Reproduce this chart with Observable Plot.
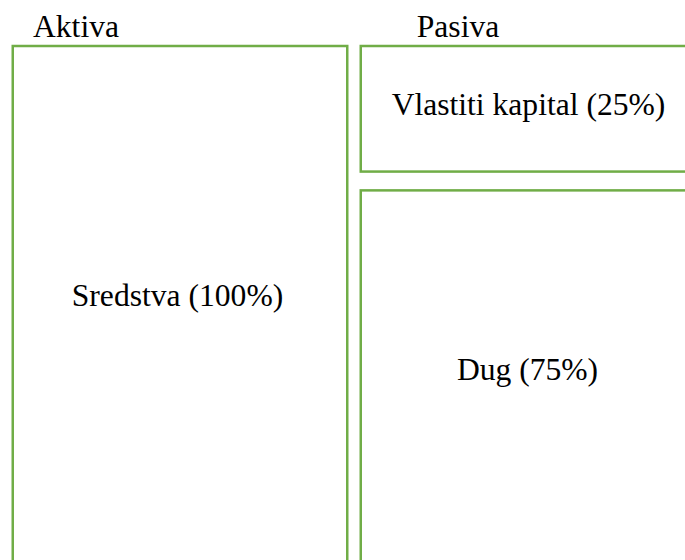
<!DOCTYPE html>
<html>
<head>
<meta charset="utf-8">
<script src="https://cdn.jsdelivr.net/npm/d3@7"></script>
<script src="https://cdn.jsdelivr.net/npm/@observablehq/plot@0.6"></script>
<style>
  html, body { margin: 0; padding: 0; background: white; overflow: hidden; }
  svg text { font-family: 'Liberation Serif', 'Times New Roman', Times, serif; }
</style>
</head>
<body>
<div id="chart"></div>
<script>
// Data
const strane = ["Aktiva", "Pasiva"];
const stavke = ["Sredstva", "Vlastiti kapital", "Dug"];
const stavkaStrana = ["Aktiva", "Pasiva", "Pasiva"];
const udjeli = [100, 25, 75];

// Table built from the arrays: stacked from the top (100%) downward per side
const rows = stavke.map((s, i) => ({stavka: s, strana: stavkaStrana[i], udio: udjeli[i]}));
const tops = new Map(strane.map(s => [s, 100]));
rows.forEach(r => {
  const t = tops.get(r.strana);
  r.y2 = t;
  r.y1 = t - r.udio;
  tops.set(r.strana, r.y1);
});

const green = "#70AD47";
const font = "Liberation Serif";
const fs = 31.6;
const barStyle = {x: "strana", y1: "y1", y2: "y2", fill: "none", stroke: green,
  strokeWidth: 2.5, insetLeft: 6.75, insetRight: 6.75};
const txt = {fontSize: fs, fontFamily: font, fill: "black"};
const label = d => `${d.stavka} (${d.udio}%)`;

const chart = Plot.plot({
  width: 685,
  height: 560,
  margin: 0,
  style: {fontFamily: "'Liberation Serif', 'Times New Roman', serif", fontSize: fs + "px", background: "white", color: "black"},
  x: {type: "band", domain: strane, range: [5.25, 702.25], padding: 0, axis: null},
  y: {domain: [0, 100], range: [552.7, 46], axis: null},
  marks: [
    // full-height column (continues below the picture)
    Plot.barY(rows, {...barStyle, filter: d => d.y2 === 100 && d.y1 === 0, insetBottom: -16}),
    // upper block of the stacked column
    Plot.barY(rows, {...barStyle, filter: d => d.y2 === 100 && d.y1 > 0, insetBottom: 1.1}),
    // lower block of the stacked column (continues below the picture)
    Plot.barY(rows, {...barStyle, filter: d => d.y2 < 100, insetTop: 17.7, insetBottom: -16}),
    Plot.text(rows, {...txt, filter: d => d.y2 === 100 && d.y1 === 0, x: "strana",
      y: d => (d.y1 + d.y2) / 2, text: label, dy: -4.25, dx: -3}),
    Plot.text(rows, {...txt, filter: d => d.y2 === 100 && d.y1 > 0, x: "strana",
      y: d => (d.y1 + d.y2) / 2, text: label, dy: -5}),
    Plot.text(rows, {...txt, filter: d => d.y2 < 100, x: "strana",
      y: d => (d.y1 + d.y2) / 2, text: label, dy: 6.5, dx: -1}),
    Plot.text(strane, {...txt, filter: d => d === "Aktiva", x: d => d, text: d => d,
      frameAnchor: "top", dy: 14.5, dx: -104.5}),
    Plot.text(strane, {...txt, filter: d => d === "Pasiva", x: d => d, text: d => d,
      frameAnchor: "top", dy: 14.5, dx: -70.5})
  ]
});
document.getElementById("chart").appendChild(chart);
</script>
</body>
</html>
